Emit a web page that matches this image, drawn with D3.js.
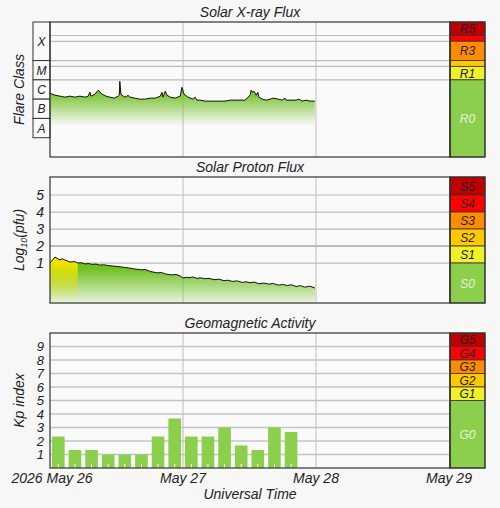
<!DOCTYPE html>
<html><head><meta charset="utf-8">
<script src="https://cdn.jsdelivr.net/npm/d3@7"></script>
<style>body{margin:0;background:#f7f7f7}svg{display:block}text{font-family:"Liberation Sans",Arial,sans-serif;font-style:italic;fill:#222}</style>
</head><body><svg id="c" width="500" height="508"></svg>
<script>
// ---- data ----
const dayLabels = ["2026 May 26","May 27","May 28","May 29"];
const xrayHours = [0,0.9,1.8,2.7,3.6,4.5,5.4,6.3,6.9,7.2,7.4,8.1,8.7,9.4,10.1,10.8,11.6,11.9,12.3,12.5,12.6,12.8,13.2,13.7,14.1,14.4,15.3,16.2,17.1,18.1,19,19.9,20.2,20.4,20.8,21.1,21.7,22.6,23.5,23.8,24.2,24.9,25.8,26.2,26.5,27.1,28,28.9,29.8,30.7,31.6,32.5,33.4,34.3,35.2,36.1,36.3,36.5,36.8,37.2,37.5,37.7,38.3,39,39.7,40.4,41.2,41.9,42.4,42.6,43.3,44.4,44.9,45.5,46.2,46.9,47.8];
const xrayFlux = [2.0e-6,1.6e-6,1.43e-6,1.27e-6,1.43e-6,1.27e-6,1.43e-6,1.27e-6,1.43e-6,2.3e-6,1.43e-6,1.8e-6,2.9e-6,1.8e-6,1.43e-6,1.27e-6,1.13e-6,1.27e-6,1.43e-6,1.6e-6,8.4e-6,1.8e-6,1.43e-6,1.27e-6,1.6e-6,1.27e-6,1.13e-6,1.0e-6,1.0e-6,1.13e-6,1.13e-6,1.43e-6,2.3e-6,1.27e-6,2.6e-6,1.6e-6,1.27e-6,1.13e-6,1.43e-6,4.1e-6,1.8e-6,1.27e-6,1.0e-6,1.27e-6,8.9e-7,8.9e-7,7.9e-7,7.9e-7,7.9e-7,7.9e-7,7.9e-7,8.9e-7,8.9e-7,8.9e-7,8.9e-7,1.6e-6,2.9e-6,2.3e-6,2.6e-6,1.6e-6,2.3e-6,1.27e-6,1.0e-6,8.9e-7,1.0e-6,1.13e-6,1.0e-6,8.9e-7,1.13e-6,8.9e-7,8.9e-7,8.9e-7,1.0e-6,7.9e-7,8.9e-7,7.9e-7,7.9e-7];
const protonHours = [0,0.5,0.9,1.4,1.8,2.2,2.7,3.6,4.5,5.0,5.6,6.3,7.0,7.6,8.3,9.0,9.7,10.5,11.5,12.6,13.5,14.4,15.3,16.5,17.2,18.1,19.5,20.1,20.8,22.0,22.7,23.5,24.0,24.6,25.1,25.8,26.5,27.2,27.9,28.7,29.6,30.5,31.4,32.1,32.9,33.8,34.7,35.4,36.1,36.9,37.7,38.6,39.5,40.3,41.2,42.0,42.8,43.6,44.4,45.2,46.0,46.9,47.8];
const protonLog = [1.0,1.2,1.35,1.25,1.18,1.25,1.18,1.06,1.08,1.0,1.02,0.95,0.97,0.92,0.94,0.88,0.9,0.85,0.82,0.78,0.74,0.7,0.65,0.6,0.62,0.5,0.42,0.45,0.36,0.3,0.33,0.24,0.12,0.16,0.14,0.18,0.1,0.13,0.08,0.1,0.02,0.05,-0.04,-0.01,-0.08,-0.05,-0.14,-0.1,-0.16,-0.12,-0.22,-0.18,-0.24,-0.2,-0.3,-0.26,-0.32,-0.28,-0.38,-0.33,-0.42,-0.36,-0.47];
const kpValues = [2.33,1.33,1.33,1,1,1,2.33,3.67,2.33,2.33,3,1.67,1.33,3,2.67];
const rScale = [["R5",1e-2,2e-3,"#c00000"],["R4",2e-3,1e-3,"#ff0000"],["R3",1e-3,1e-4,"#ff8c00"],["R2",1e-4,5e-5,"#ffc800"],["R1",5e-5,1e-5,"#f0f028"],["R0",1e-5,1e-9,"#8ccf4d"]];
const sScale = [["S5",6.06,5,"#c00000"],["S4",5,4,"#ff0000"],["S3",4,3,"#ff8c00"],["S2",3,2,"#ffc800"],["S1",2,1,"#f0f028"],["S0",1,-1.35,"#8ccf4d"]];
const gScale = [["G5",10,9,"#c00000"],["G4",9,8,"#ff0000"],["G3",8,7,"#ff8c00"],["G2",7,6,"#ffc800"],["G1",6,5,"#f0f028"],["G0",5,0,"#8ccf4d"]];
const flareClasses = [["X",1e-2,1e-4],["M",1e-4,1e-5],["C",1e-5,1e-6],["B",1e-6,1e-7],["A",1e-7,1e-8]];

const svg = d3.select("#c");
const x = d3.scaleLinear().domain([0,72]).range([50,449]);
const defs = svg.append("defs");
function grad(id, c, y1, y2){
  const g = defs.append("linearGradient").attr("id",id).attr("gradientUnits","userSpaceOnUse").attr("x1",0).attr("x2",0).attr("y1",y1).attr("y2",y2);
  g.append("stop").attr("offset",0).attr("stop-color",c).attr("stop-opacity",1);
  g.append("stop").attr("offset",1).attr("stop-color",c).attr("stop-opacity",0);
}
function panel(top,bottom,title,ylab,scaleBar,y){
  svg.append("rect").attr("x",50).attr("y",top).attr("width",400).attr("height",bottom-top).attr("fill","#fafafa");
  svg.append("text").attr("x",250).attr("y",top-5).attr("text-anchor","middle").attr("font-size",14).text(title);
  svg.append("text").attr("transform",`translate(24,${(top+bottom)/2}) rotate(-90)`).attr("text-anchor","middle").attr("font-size",14).html(ylab);
  [24,48].forEach(h=>svg.append("line").attr("x1",x(h)).attr("x2",x(h)).attr("y1",top).attr("y2",bottom).attr("stroke","#c8c8c8").attr("stroke-width",1.2));
  scaleBar.forEach(s=>{
    const y1=y(s[1]), y2=y(s[2]);
    svg.append("rect").attr("x",450).attr("y",y1).attr("width",35).attr("height",y2-y1).attr("fill",s[3]).attr("stroke","#333").attr("stroke-width",0.8);
    if(y2-y1>10) svg.append("text").attr("x",467.5).attr("y",(y1+y2)/2+4.5).attr("text-anchor","middle").attr("font-size",12)
      .style("fill", s[0].endsWith("0")?"#e8f5d8":"#222").text(s[0]);
  });
}
function frame(top,bottom){
  svg.append("rect").attr("x",50).attr("y",top).attr("width",400).attr("height",bottom-top).attr("fill","none").attr("stroke","#333").attr("stroke-width",1.2);
  svg.append("rect").attr("x",450).attr("y",top).attr("width",35).attr("height",bottom-top).attr("fill","none").attr("stroke","#333").attr("stroke-width",1.2);
}

// ---- X-ray ----
const yX = d3.scaleLog().domain([1e-9,1e-2]).range([157,22]);
panel(22,157,"Solar X-ray Flux","Flare Class",rScale,yX);
[2e-3,1e-3,1e-4,5e-5,1e-5].forEach(v=>svg.append("line").attr("x1",50).attr("x2",450).attr("y1",yX(v)).attr("y2",yX(v)).attr("stroke","#bbb").attr("stroke-width",1.2));
flareClasses.forEach(c=>{
  svg.append("rect").attr("x",33).attr("y",yX(c[1])).attr("width",17).attr("height",yX(c[2])-yX(c[1])).attr("fill","#fafafa").attr("stroke","#333");
  svg.append("text").attr("x",41.5).attr("y",(yX(c[1])+yX(c[2]))/2+4.5).attr("text-anchor","middle").attr("font-size",12).text(c[0]);
});
const xr = xrayHours.map((h,i)=>[h,xrayFlux[i]]);
grad("gx","#74c228",92,126);
svg.append("path").datum(xr).attr("d",d3.area().x(d=>x(d[0])).y0(157).y1(d=>yX(d[1]))).attr("fill","url(#gx)");
svg.append("path").datum(xr).attr("d",d3.line().x(d=>x(d[0])).y(d=>yX(d[1]))).attr("fill","none").attr("stroke","#111").attr("stroke-width",1);
frame(22,157);

// ---- Proton ----
const yP = d3.scaleLinear().domain([-1.35,6.06]).range([303,177]);
panel(177,303,"Solar Proton Flux","Log<tspan font-size='9' dy='3'>10</tspan><tspan dy='-3'>(pfu)</tspan>",sScale,yP);
[5,4,3,2,1].forEach(v=>svg.append("line").attr("x1",50).attr("x2",450).attr("y1",yP(v)).attr("y2",yP(v)).attr("stroke","#bbb").attr("stroke-width",v==2?2:1.2));
[1,2,3,4,5].forEach(v=>svg.append("text").attr("x",44).attr("y",yP(v)+5).attr("text-anchor","end").attr("font-size",14).text(v));
const pr = protonHours.map((h,i)=>[h,protonLog[i]]);
grad("gp","#6fc020",268,308);
grad("gy","#f2e600",262,300);
svg.append("path").datum(pr).attr("d",d3.area().x(d=>x(d[0])).y0(303).y1(d=>yP(d[1]))).attr("fill","url(#gp)");
svg.append("path").datum(pr.filter(d=>d[0]<=5)).attr("d",d3.area().x(d=>x(d[0])).y0(303).y1(d=>yP(d[1]))).attr("fill","url(#gy)");
svg.append("path").datum(pr).attr("d",d3.line().x(d=>x(d[0])).y(d=>yP(d[1]))).attr("fill","none").attr("stroke","#111").attr("stroke-width",1);
frame(177,303);

// ---- Kp ----
const yK = d3.scaleLinear().domain([0,10]).range([468,333]);
panel(333,468,"Geomagnetic Activity","Kp index",gScale,yK);
d3.range(1,10).forEach(v=>{
  svg.append("line").attr("x1",50).attr("x2",450).attr("y1",yK(v)).attr("y2",yK(v)).attr("stroke","#c4c4c4").attr("stroke-width",1.6);
  svg.append("text").attr("x",44).attr("y",yK(v)+4.5).attr("text-anchor","end").attr("font-size",13).text(v);
});
kpValues.forEach((k,i)=>{
  const x0 = x(i*3)+2, w = x(3)-x(0)-4;
  svg.append("rect").attr("x",x0).attr("y",yK(k)).attr("width",w).attr("height",yK(0)-yK(k)).attr("fill","#8ccf4d");
  svg.append("line").attr("x1",x0+w/2).attr("x2",x0+w/2).attr("y1",468).attr("y2",464).attr("stroke","#fff").attr("stroke-width",1);
});
frame(333,468);

// ---- time axis ----
dayLabels.forEach((l,i)=>svg.append("text").attr("x",i==0?52:x(i*24)).attr("y",483).attr("text-anchor","middle").attr("font-size",14).text(l));
svg.append("text").attr("x",250).attr("y",499).attr("text-anchor","middle").attr("font-size",14).text("Universal Time");
</script></body></html>
